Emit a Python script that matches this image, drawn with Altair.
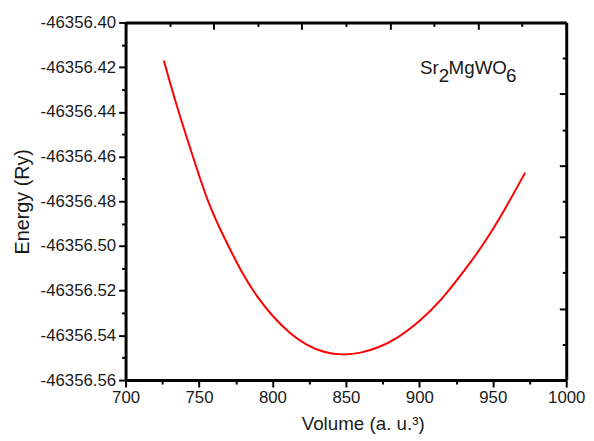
import altair as alt
import pandas as pd

# Curve
volume = [726, 735, 745, 756, 767, 779, 790, 801, 812, 823, 835, 848, 860,
          872, 885, 900, 915, 930, 945, 960, 972]
energy = [-46356.417, -46356.4375, -46356.4583, -46356.4796, -46356.496,
          -46356.5114, -46356.5229, -46356.5319, -46356.5389, -46356.544,
          -46356.5473, -46356.5485, -46356.5477, -46356.5453, -46356.541,
          -46356.5336, -46356.5238, -46356.5115, -46356.4977, -46356.4814,
          -46356.4672]

# Tick values
x_major = [700, 750, 800, 850, 900, 950, 1000]
x_minor = [725, 775, 825, 875, 925, 975]
y_major = [-46356.40, -46356.42, -46356.44, -46356.46, -46356.48,
           -46356.50, -46356.52, -46356.54, -46356.56]
y_minor = [-46356.41, -46356.43, -46356.45, -46356.47, -46356.49,
           -46356.51, -46356.53, -46356.55]
top_major = [700, 760, 820, 880, 940, 1000]
top_minor = [730, 790, 850, 910, 970]
right_major = [-46356.40, -46356.432, -46356.464, -46356.496, -46356.528,
               -46356.56]
right_minor = [-46356.416, -46356.448, -46356.48, -46356.512, -46356.544]

# Annotation
label_parts = ["Sr", "2", "MgWO", "6"]
label_x = [900.4]
label_y = [-46356.4229]

W, H = 446, 362
FONT = "Liberation Sans"
TXT = "#1a1a1a"

df = pd.DataFrame({"Volume": volume, "Energy": energy})
ann = pd.DataFrame({"x": label_x, "y": label_y})

xs = alt.Scale(domain=[700, 1000], nice=False, zero=False)
ys = alt.Scale(domain=[-46356.56, -46356.40], nice=False, zero=False)


def tick_axis(orient, values, size, domain=False, offset=0):
    return alt.Axis(orient=orient, values=values, tickSize=size, tickWidth=2,
                    tickColor="black", labels=False, domain=domain,
                    domainColor="black", domainWidth=3, grid=False,
                    offset=offset)


main = alt.Chart(df).mark_line(color="#ff0000", strokeWidth=2,
                               interpolate="natural").encode(
    x=alt.X("Volume:Q", scale=xs, title="Volume (a. u.\u00b3)",
            axis=alt.Axis(orient="bottom", values=x_major, tickSize=7,
                          tickWidth=2, tickColor="black", domainColor="black",
                          domainWidth=3, grid=False, format="d",
                          labelFlush=False, labelFont=FONT, labelFontSize=17,
                          labelColor=TXT, labelPadding=3, titleFont=FONT,
                          titleFontSize=19, titleFontWeight="normal",
                          titleColor=TXT, titleX=240, titleY=44,
                          titleAlign="center", titleBaseline="middle")),
    y=alt.Y("Energy:Q", scale=ys, title="Energy (Ry)",
            axis=alt.Axis(orient="left", values=y_major, tickSize=7,
                          tickWidth=2, tickColor="black", domainColor="black",
                          domainWidth=3, grid=False, labelFlush=False,
                          labelExpr="replace(format(datum.value, '.2f'), '\u2212', '-')",
                          labelFont=FONT, labelFontSize=17, labelColor=TXT,
                          labelPadding=3, titleFont=FONT, titleFontSize=20,
                          titleFontWeight="normal", titleColor=TXT,
                          titleX=-104, titleY=181, titleAlign="center",
                          titleBaseline="middle")),
)


def ghost(xaxis, yaxis):
    return alt.Chart(df).mark_line(strokeOpacity=0).encode(
        x=alt.X("Volume:Q", scale=xs, title=None, axis=xaxis),
        y=alt.Y("Energy:Q", scale=ys, title=None, axis=yaxis),
    )


minor_bl = ghost(tick_axis("bottom", x_minor, 4), tick_axis("left", y_minor, 4))
major_tr = ghost(tick_axis("bottom", top_major, 7, domain=True, offset=-H),
                 tick_axis("left", right_major, 7, domain=True, offset=-W))
minor_tr = ghost(tick_axis("bottom", top_minor, 4, offset=-H),
                 tick_axis("left", right_minor, 4, offset=-W))

dxs = [0, 19, 29, 87]
dys = [0, 8, 0, 8]
texts = []
for part, dx, dy in zip(label_parts, dxs, dys):
    texts.append(alt.Chart(ann).mark_text(text=part, align="left",
                                          baseline="alphabetic", dx=dx, dy=dy,
                                          font=FONT, fontSize=19, color=TXT).encode(
        x=alt.X("x:Q", scale=xs, axis=None),
        y=alt.Y("y:Q", scale=ys, axis=None),
    ))

chart = alt.layer(main, minor_bl, major_tr, minor_tr, *texts).resolve_axis(
    x="independent", y="independent"
).properties(
    width=W, height=H,
    autosize=alt.AutoSizeParams(type="none"),
    padding={"left": 119, "top": 12, "right": 20, "bottom": 55},
).configure_view(stroke="transparent")

chart.save("out.html", embed_options={"renderer": "svg", "actions": False})
